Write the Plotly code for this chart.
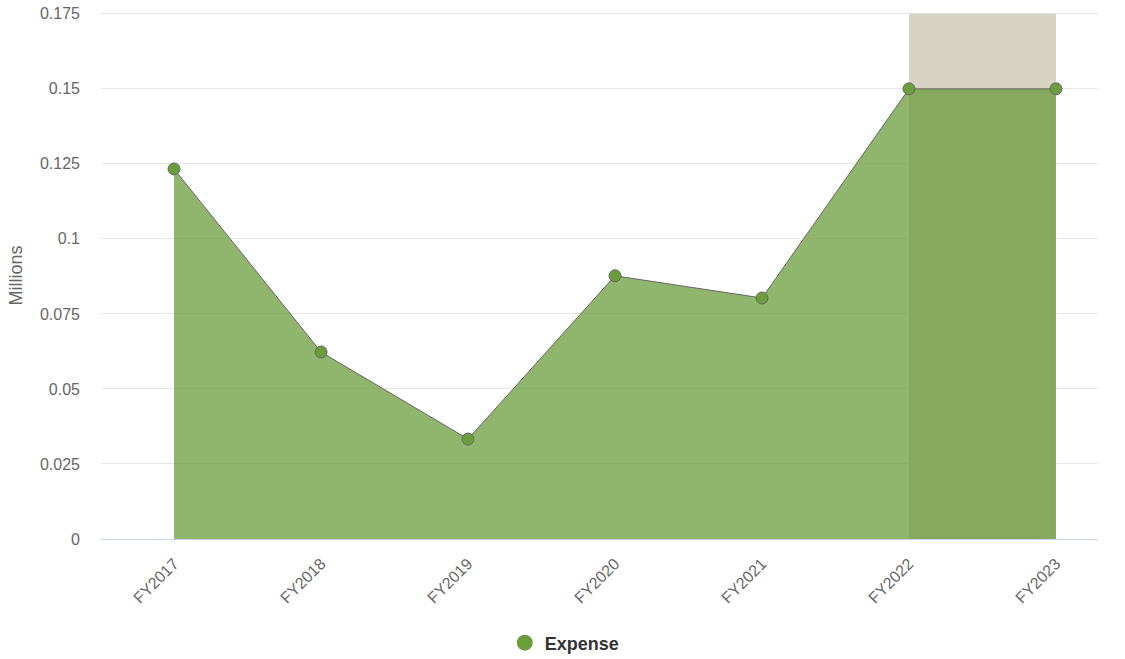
import plotly.graph_objects as go

categories = ["FY2017", "FY2018", "FY2019", "FY2020", "FY2021", "FY2022", "FY2023"]
expense = [0.1233, 0.0623, 0.0333, 0.0877, 0.0803, 0.15, 0.15]
tick_vals = [0, 0.025, 0.05, 0.075, 0.1, 0.125, 0.15, 0.175]
tick_text = ["0", "0.025", "0.05", "0.075", "0.1", "0.125", "0.15", "0.175"]
projected = ["FY2022", "FY2023"]

FONT = "Liberation Sans, Arial, Helvetica, sans-serif"

W, H = 1125, 659

fig = go.Figure()
fig.add_trace(go.Scatter(
    x=categories, y=expense, mode="lines+markers", fill="tozeroy",
    fillcolor="rgba(107,156,59,0.75)",
    line=dict(color="#666666", width=1),
    marker=dict(size=12, color="#6a9e3a", line=dict(color="#666666", width=1)),
    showlegend=False, name="Expense",
))
fig.add_trace(go.Scatter(
    x=[None], y=[None], mode="markers", name="Expense",
    marker=dict(size=16, color="#6a9e3a"), showlegend=True,
))

fig.add_shape(type="rect", xref="x", yref="y",
              x0=projected[0], x1=projected[1], y0=0, y1=0.175,
              fillcolor="#d8d4c4", line=dict(width=0), layer="between")

fig.update_layout(
    width=W, height=H,
    margin=dict(l=101, r=27, t=12, b=120),
    plot_bgcolor="white", paper_bgcolor="white",
    font=dict(family=FONT, color="#666666", size=16),
    legend=dict(orientation="h", xref="container", yref="container",
                x=0.502, xanchor="center", y=16 / H, yanchor="middle",
                font=dict(size=18, color="#333333", family=FONT, weight="bold")),
    xaxis=dict(type="category", range=[-0.497, 6.286], showgrid=False,
               automargin=False,
               tickangle=-45, showline=True, linecolor="#ccd6eb", linewidth=1,
               ticks="", tickfont=dict(size=16, color="#666666"),
               ticklabelstandoff=8),
    yaxis=dict(range=[0, 0.1756], tickvals=tick_vals, ticktext=tick_text,
               automargin=False, ticklabeloverflow="allow",
               showgrid=True, gridcolor="#e6e6e6", gridwidth=1, zeroline=False,
               title=dict(text="Millions", font=dict(size=18, color="#666666"), standoff=12),
               tickfont=dict(size=16, color="#666666"), ticks="", ticklabelstandoff=20),
)

fig.write_html("out.html", config={"displayModeBar": False},
               post_script="document.body.style.margin='0';")
